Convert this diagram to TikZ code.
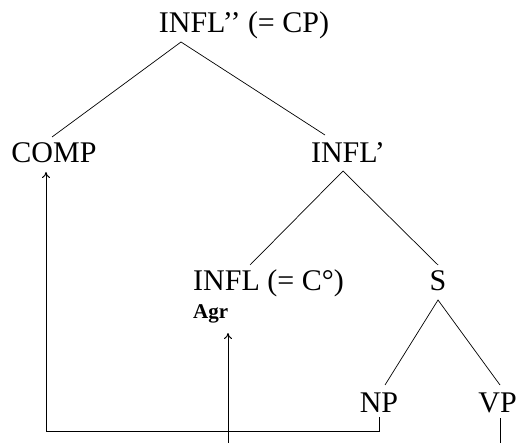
\documentclass[tikz,border=0pt]{standalone}
\usepackage{fontspec}
\setmainfont{Liberation Serif}
\usetikzlibrary{arrows.meta}
\begin{document}
\begin{tikzpicture}[x=1pt,y=-1pt,
  lbl/.style={font=\fontsize{30}{32}\selectfont, inner sep=0pt, anchor=base},
  sm/.style={font=\bfseries\fontsize{21}{23}\selectfont, inner sep=0pt, anchor=base west},
  br/.style={line width=0.7pt},
  mv/.style={line width=1pt},
  tip/.style={line width=1pt,-{To[length=6pt,width=8pt]}}]
\useasboundingbox[fill=white] (0,0) rectangle (518,443);
% nodes
\node[lbl] (cp) at (244,33) {INFL’’ (= CP)};
\node[lbl] (comp) at (54,163) {COMP};
\node[lbl] (ibar) at (348,163) {INFL’};
\node[lbl,anchor=base west] (infl) at (193,290) {INFL (= C°)};
\node[sm] (agr) at (193,318) {Agr};
\node[lbl] (s) at (438,290) {S};
\node[lbl] (np) at (379,412) {NP};
\node[lbl,anchor=base east] (vp) at (517,412) {VP};
% branch points
\coordinate (cpB) at (181,42);
\coordinate (compT) at (52,137);
\coordinate (ibarT) at (325,135);
\coordinate (ibarB) at (343,171);
\coordinate (inflT) at (250,265);
\coordinate (sT) at (438,265);
\coordinate (sB) at (438,300);
\coordinate (npT) at (385,385);
\coordinate (vpT) at (500,385);
\draw[br] (compT) -- (cpB) -- (ibarT);
\draw[br] (inflT) -- (ibarB) -- (sT);
\draw[br] (npT) -- (sB) -- (vpT);
% movement lines
\coordinate (npB) at (379,417);
\coordinate (corner) at (46,431);
\coordinate (compB) at (46,172);
\coordinate (agrB) at (228,333);
\coordinate (agrFoot) at (228,443);
\coordinate (vpB) at (500,418);
\coordinate (vpFoot) at (500,443);
\draw[mv] (npB) |- (corner);
\draw[tip] (corner) -- (compB);
\draw[tip] (agrFoot) -- (agrB);
\draw[mv] (vpB) -- (vpFoot);
\end{tikzpicture}
\end{document}
